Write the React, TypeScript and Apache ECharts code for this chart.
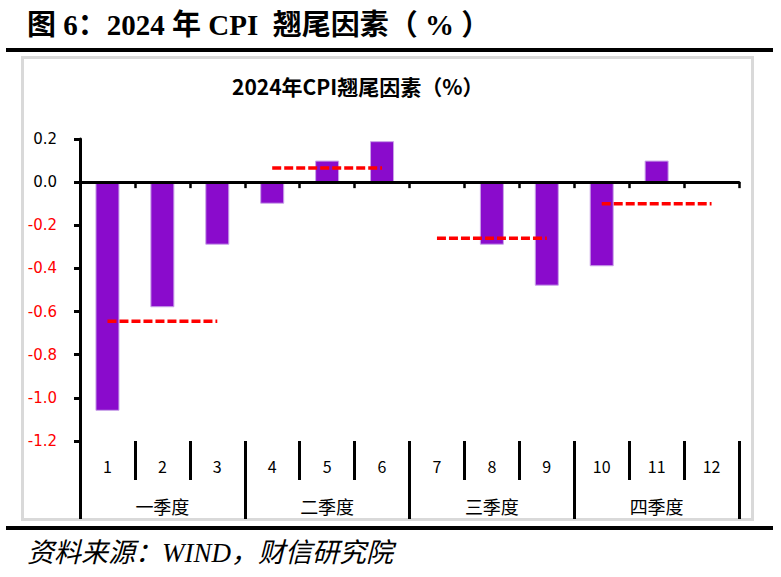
import React, { useEffect, useRef } from "react";
import * as echarts from "echarts";

const months = ["1", "2", "3", "4", "5", "6", "7", "8", "9", "10", "11", "12"];
const quarters = ["一季度", "二季度", "三季度", "四季度"];
const tailFactor = [-1.06, -0.58, -0.29, -0.1, 0.1, 0.19, 0, -0.29, -0.48, -0.39, 0.1, 0];
const quarterAvg = [-0.645, 0.065, -0.26, -0.1];
const yMin = -1.2;
const yMax = 0.2;
const yStep = 0.2;

const pageTitle = "图 6：2024 年 CPI  翘尾因素（ % ）";
const chartTitle = "2024年CPI翘尾因素（%）";
const sourceText = "资料来源：WIND，财信研究院";

export default function App() {
  const ref = useRef<HTMLDivElement>(null);
  useEffect(() => {
    if (!ref.current) return;
    const chart = echarts.init(ref.current, undefined, { renderer: "svg" });
    const lineSeries = quarters.map((q, qi) => ({
      name: q,
      type: "line",
      xAxisIndex: 0,
      yAxisIndex: 0,
      data: months.map((m, i) => (Math.floor(i / 3) === qi ? quarterAvg[qi] : "-")),
      showSymbol: false,
      symbol: "none",
      z: 5,
      lineStyle: { color: "#ff0000", width: 3.5, type: [9, 3] },
    }));
    chart.setOption({
      animation: false,
      backgroundColor: "#ffffff",
      grid: { left: 80, right: 42, top: 139, bottom: 136, containLabel: false },
      graphic: [
        {
          type: "text",
          x: 27,
          y: 25,
          style: {
            text: pageTitle,
            fontSize: 29,
            fontWeight: "bold",
            fontFamily: '"Liberation Serif", "Noto Sans CJK SC", serif',
            fill: "#000",
            verticalAlign: "middle",
          },
        },
        { type: "rect", shape: { x: 6, y: 48, width: 767, height: 4 }, style: { fill: "#000" } },
        {
          type: "rect",
          shape: { x: 22.5, y: 57.5, width: 730, height: 462 },
          style: { fill: "none", stroke: "#d9d9d9", lineWidth: 3 },
          z: -1,
        },
        { type: "rect", shape: { x: 6, y: 526, width: 767, height: 4 }, style: { fill: "#000" } },
        {
          type: "text",
          x: 232,
          y: 86,
          style: {
            text: chartTitle,
            fontSize: 21,
            fontWeight: "bold",
            fontFamily: '"Noto Sans CJK SC", sans-serif',
            fill: "#000",
            verticalAlign: "middle",
          },
        },
        {
          type: "text",
          x: 27,
          y: 553,
          style: {
            text: sourceText,
            fontSize: 27,
            fontStyle: "italic",
            fontFamily: '"Liberation Serif", "Noto Sans CJK SC", serif',
            fill: "#000",
            verticalAlign: "middle",
          },
        },
      ],
      xAxis: [
        {
          type: "category",
          data: months,
          position: "bottom",
          z: 10,
          axisLine: { show: true, onZero: true, lineStyle: { color: "#000", width: 3 } },
          axisTick: { show: true, length: 6, lineStyle: { color: "#000", width: 2.5 } },
          axisLabel: { show: false },
          splitLine: { show: false },
        },
        {
          type: "category",
          data: months,
          position: "bottom",
          axisLine: { show: false, onZero: false },
          axisTick: { show: true, length: 39, lineStyle: { color: "#000", width: 3 } },
          axisLabel: {
            show: true,
            interval: 0,
            margin: 17,
            fontSize: 16,
            fontFamily: '"Noto Sans CJK SC", sans-serif',
            color: "#000",
          },
          splitLine: { show: false },
        },
        {
          type: "category",
          data: quarters,
          position: "bottom",
          axisLine: { show: false, onZero: false },
          axisTick: { show: true, length: 78, lineStyle: { color: "#000", width: 3 } },
          axisLabel: {
            show: true,
            interval: 0,
            margin: 56,
            fontSize: 18,
            fontFamily: '"Noto Sans CJK SC", sans-serif',
            color: "#000",
          },
          splitLine: { show: false },
        },
      ],
      yAxis: {
        type: "value",
        min: yMin,
        max: yMax,
        interval: yStep,
        z: 10,
        axisLine: { show: true, lineStyle: { color: "#000", width: 3 } },
        axisTick: { show: true, length: 6, lineStyle: { color: "#000", width: 3 } },
        splitLine: { show: false },
        axisLabel: {
          margin: 23,
          formatter: (v: number) => {
            const s = Math.abs(v) < 1e-9 ? "0.0" : v.toFixed(1);
            return v < -1e-9 ? `{neg|${s}}` : `{pos|${s}}`;
          },
          rich: {
            neg: { color: "#ff0000", fontSize: 15, fontFamily: '"DejaVu Sans", sans-serif' },
            pos: { color: "#000", fontSize: 15, fontFamily: '"DejaVu Sans", sans-serif' },
          },
        },
      },
      series: [
        {
          name: "翘尾因素",
          type: "bar",
          xAxisIndex: 0,
          yAxisIndex: 0,
          data: tailFactor,
          barWidth: 24,
          z: 2,
          itemStyle: { color: "#8a0bcc", borderColor: "#c9a3e8", borderWidth: 1 },
        },
        ...lineSeries,
      ],
    });
    return () => chart.dispose();
  }, []);
  return (
    <div
      ref={ref}
      style={{ position: "absolute", left: 0, top: 0, width: 781, height: 577, background: "#fff" }}
    />
  );
}
